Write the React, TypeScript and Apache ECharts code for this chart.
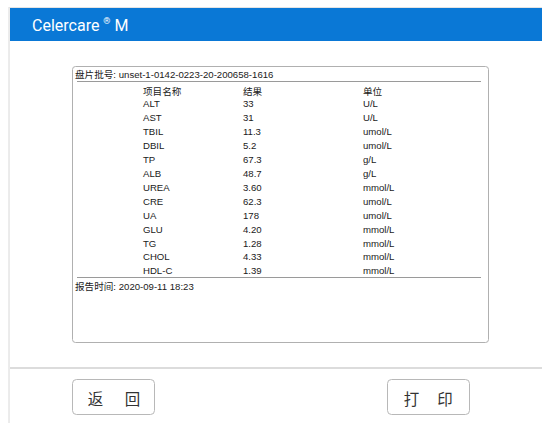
import React, { useEffect, useRef } from "react";
import * as echarts from "echarts";

const TITLE = "Celercare";
const PLATE_LABEL = "盘片批号: unset-1-0142-0223-20-200658-1616";
const COLUMN_HEADERS = ["项目名称", "结果", "单位"];
const ITEM_NAMES = ["ALT", "AST", "TBIL", "DBIL", "TP", "ALB", "UREA", "CRE", "UA", "GLU", "TG", "CHOL", "HDL-C"];
const ITEM_VALUES = ["33", "31", "11.3", "5.2", "67.3", "48.7", "3.60", "62.3", "178", "4.20", "1.28", "4.33", "1.39"];
const ITEM_UNITS = ["U/L", "U/L", "umol/L", "umol/L", "g/L", "g/L", "mmol/L", "umol/L", "umol/L", "mmol/L", "mmol/L", "mmol/L", "mmol/L"];
const REPORT_TIME = "报告时间: 2020-09-11 18:23";
const BUTTONS = [["返", "回"], ["打", "印"]];

const FONT = "'Liberation Sans', Arial, 'Noto Sans CJK SC', sans-serif";

export default function App() {
  const ref = useRef<HTMLDivElement>(null);
  useEffect(() => {
    if (!ref.current) return;
    const chart = echarts.init(ref.current, null, { renderer: "svg" });
    const colX = [143, 243, 363];
    const rowY0 = 103.5;
    const rowH = 13.95;
    const txt = (text: string, x: number, y: number, size = 9.6, fill = "#1a1a1a", extra: any = {}) => ({
      type: "text",
      x,
      y,
      style: { text, fill, fontSize: size, fontFamily: FONT, verticalAlign: "middle", ...extra },
    });
    const elements: any[] = [];
    elements.push({ type: "line", shape: { x1: 9, y1: 7, x2: 9, y2: 423 }, style: { stroke: "#d8d8d8", lineWidth: 1 } });
    elements.push({ type: "line", shape: { x1: 9, y1: 7.5, x2: 542, y2: 7.5 }, style: { stroke: "#e4e4e4", lineWidth: 1 } });
    elements.push({ type: "rect", shape: { x: 10, y: 8, width: 532, height: 33 }, style: { fill: "#0A78D6" } });
    elements.push({
      type: "text",
      x: 32,
      y: 25,
      style: {
        text: "{a|" + TITLE + " }{b|®}{a| M}",
        verticalAlign: "middle",
        rich: {
          a: { fontSize: 16, fill: "#ffffff", fontFamily: "Roboto, sans-serif" },
          b: { fontSize: 9, fill: "#ffffff", fontFamily: "Roboto, sans-serif", verticalAlign: "top", padding: [0, 0, 8, 0] },
        },
      },
    });
    elements.push({ type: "rect", shape: { x: 72.5, y: 66.5, width: 416, height: 276, r: 3 }, style: { fill: "#fff", stroke: "#b0b0b0", lineWidth: 1 } });
    elements.push(txt(PLATE_LABEL, 75, 74));
    elements.push({ type: "line", shape: { x1: 77, y1: 81.5, x2: 481, y2: 81.5 }, style: { stroke: "#9a9a9a", lineWidth: 1 } });
    COLUMN_HEADERS.forEach((h, i) => elements.push(txt(h, colX[i], 91.5)));
    ITEM_NAMES.forEach((n, i) => {
      const y = rowY0 + i * rowH;
      elements.push(txt(n, colX[0], y));
      elements.push(txt(ITEM_VALUES[i], colX[1], y));
      elements.push(txt(ITEM_UNITS[i], colX[2], y));
    });
    elements.push({ type: "line", shape: { x1: 77, y1: 277.5, x2: 481, y2: 277.5 }, style: { stroke: "#9a9a9a", lineWidth: 1 } });
    elements.push(txt(REPORT_TIME, 75, 286));
    elements.push({ type: "rect", shape: { x: 10, y: 367, width: 532, height: 2 }, style: { fill: "#dcdcdc" } });
    const btnX = [72.5, 387.5];
    const charX = [[95.5, 132.5], [411.5, 445]];
    btnX.forEach((bx, i) => {
      elements.push({ type: "rect", shape: { x: bx, y: 379.5, width: 82, height: 35, r: 4 }, style: { fill: "#fff", stroke: "#b8b8b8", lineWidth: 1 } });
      BUTTONS[i].forEach((c, j) => {
        elements.push({
          type: "text",
          x: charX[i][j],
          y: 397.5,
          style: { text: c, fill: "#333", fontSize: 15.5, fontFamily: "'Noto Sans CJK SC', sans-serif", align: "center", verticalAlign: "middle" },
        });
      });
    });
    chart.setOption({ animation: false, backgroundColor: "#ffffff", graphic: { elements } });
    return () => chart.dispose();
  }, []);
  return <div ref={ref} style={{ position: "fixed", left: 0, top: 0, width: 542, height: 423 }} />;
}
